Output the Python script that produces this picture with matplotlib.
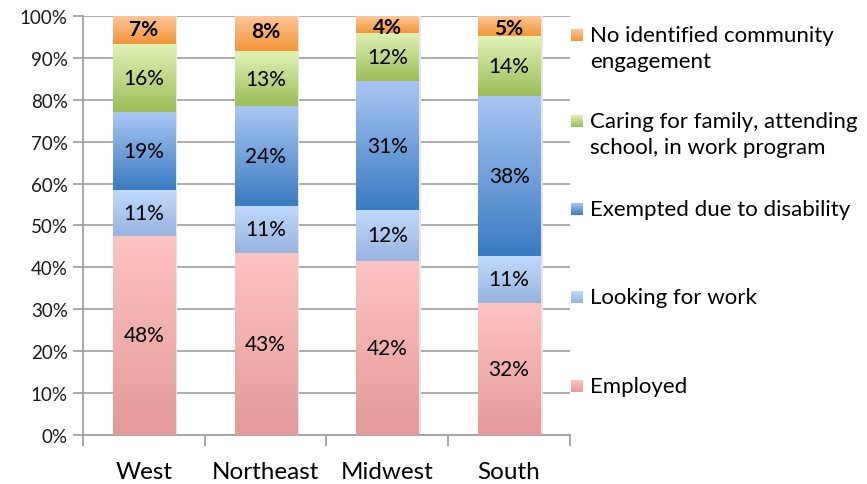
import numpy as np
import matplotlib
matplotlib.use('Agg')
import matplotlib.pyplot as plt
from matplotlib.patches import Rectangle
from matplotlib.colors import LinearSegmentedColormap

plt.rcParams['font.family'] = ['Lato', 'DejaVu Sans']

# DATA (shares in %, bottom to top)
regions = ['West', 'Northeast', 'Midwest', 'South']
employed = [47.6, 43.4, 41.6, 31.6]
looking = [10.9, 11.3, 12.1, 11.1]
exempted = [18.6, 23.8, 30.7, 38.2]
caring = [16.2, 13.1, 11.6, 14.3]
no_engagement = [6.7, 8.4, 4.0, 4.8]

series = [employed, looking, exempted, caring, no_engagement]
names = ['Employed', 'Looking for work', 'Exempted due to disability',
         'Caring for family, attending\nschool, in work program',
         'No identified community\nengagement']
# (top colour, bottom colour) of each gradient
grads = [('#fdc3c2', '#e49a98'),
         ('#c0d9fc', '#98b3df'),
         ('#a8c6f3', '#3b7bc2'),
         ('#e0f2b6', '#9cbd58'),
         ('#fdc79a', '#f39539')]
yticks = np.arange(0, 101, 10)

# FUNCTIONS
def gradient_box(ax, x0, x1, y0, y1, cols, **kw):
  cmap = LinearSegmentedColormap.from_list('g', [cols[1], cols[0]])
  img = np.linspace(0, 1, 64).reshape(-1, 1)
  ax.imshow(img, extent=[x0, x1, y0, y1], origin='lower', cmap=cmap,
            aspect='auto', interpolation='bicubic', **kw)

# EXECUTION
fig = plt.figure(figsize=(8.67, 4.85), dpi=100)
ax = fig.add_axes([0.0957, 0.101, 0.5617, 0.864])

width = 0.51
x = np.arange(len(regions))
bottoms = np.zeros(len(regions))
for k, vals in enumerate(series):
  for i, v in enumerate(vals):
    x0, x1 = x[i] - width / 2, x[i] + width / 2
    # faint shadow to the right
    ax.add_patch(Rectangle((x1, bottoms[i]), 0.02, v, color='#e6e6e6', zorder=2, lw=0))
    gradient_box(ax, x0, x1, bottoms[i], bottoms[i] + v, grads[k], zorder=3)
    lab = f'{round(v)}%'
    yc = bottoms[i] + v / 2
    if k == 4:
      ax.text(x[i], yc + (v - 8) * 0.3 + 0.6, lab, ha='center', va='center',
              fontsize=15, fontweight='bold', color='black', zorder=5)
    else:
      ax.text(x[i], yc, lab, ha='center', va='center', fontsize=15,
              color='black', zorder=5)
  bottoms += np.array(vals)

ax.set_xlim(-0.5, len(regions) - 0.5)
ax.set_ylim(0, 100)
ax.set_yticks(yticks)
ax.set_yticklabels([f'{t}%' for t in yticks], fontsize=13.5, color='#1a1a1a')
ax.set_xticks(x)
ax.set_xticklabels(regions, fontsize=17.5, color='black')
ax.set_xticks(np.arange(-0.5, len(regions), 1), minor=True)
ax.tick_params(axis='x', which='major', length=0, pad=19)
ax.tick_params(axis='x', which='minor', length=8, width=1.3, color='#a0a0a0')
ax.tick_params(axis='y', length=7, width=1.3, color='#a0a0a0', pad=4)
ax.grid(axis='y', color='#a6a6a6', linewidth=1.3, zorder=0)
ax.set_axisbelow(True)
for s in ['top', 'right']:
  ax.spines[s].set_visible(False)
for s in ['left', 'bottom']:
  ax.spines[s].set_color('#a0a0a0')
  ax.spines[s].set_linewidth(1.3)

# legend drawn by hand (top entry first)
leg_y = [36, 122, 210, 298, 387]
lax = fig.add_axes([0, 0, 1, 1], facecolor='none')
lax.set_xlim(0, 867)
lax.set_ylim(485, 0)
lax.axis('off')
for j, k in enumerate(range(4, -1, -1)):
  yy = leg_y[j]
  gradient_box(lax, 571, 583, yy + 6, yy - 6, grads[k])
  lax.text(590, yy - 10, names[k], ha='left', va='top', fontsize=16,
           color='black', linespacing=1.4)
lax.set_xlim(0, 867)
lax.set_ylim(485, 0)

fig.savefig('out.png', dpi=100)
